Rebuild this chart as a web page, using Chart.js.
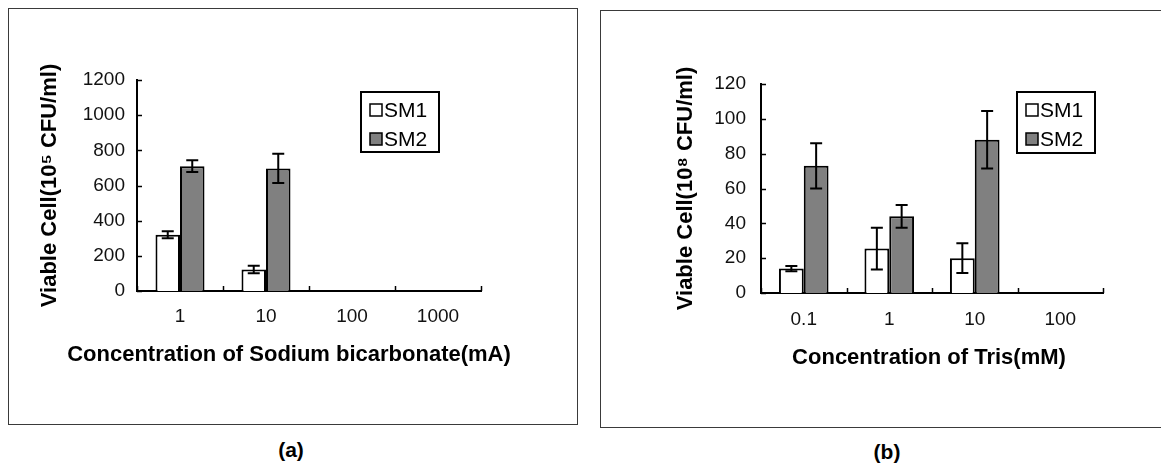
<!DOCTYPE html>
<html>
<head>
<meta charset="utf-8">
<script src="https://cdn.jsdelivr.net/npm/chart.js@4"></script>
<style>
  html, body { margin: 0; padding: 0; background: #fff; }
  body { width: 1161px; height: 466px; position: relative; overflow: hidden; font-family: "Liberation Sans", Arial, sans-serif; }
  .frame { position: absolute; border: 1px solid #3a3a3a; box-sizing: border-box; pointer-events: none; }
  canvas { position: absolute; }
  .cap { position: absolute; font-weight: bold; font-size: 21px; color: #000; transform: translate(-50%, -50%); white-space: nowrap; }
</style>
</head>
<body>
<canvas id="chartA" width="569" height="416" style="left:8px;top:8px;width:569px;height:416px;"></canvas>
<div class="frame" style="left:8px;top:8px;width:570px;height:417px;"></div>
<canvas id="chartB" width="561" height="417" style="left:600px;top:10px;width:561px;height:417px;"></canvas>
<div class="frame" style="left:600px;top:10px;width:562px;height:418px;"></div>
<div class="cap" style="left:291px;top:450px;">(a)</div>
<div class="cap" style="left:887px;top:452px;">(b)</div>
<script>
// ---------- data ----------
const seriesNames = ['SM1', 'SM2'];

const sodiumLabels = ['1', '10', '100', '1000'];
const sodiumSM1 = [320, 122, null, null];
const sodiumSM1Err = [20, 21, null, null];
const sodiumSM2 = [710, 697, null, null];
const sodiumSM2Err = [33, 83, null, null];
const sodiumTicks = [0, 200, 400, 600, 800, 1000, 1200];

const trisLabels = ['0.1', '1', '10', '100'];
const trisSM1 = [14, 25.5, 20, null];
const trisSM1Err = [1.5, 12, 8.5, null];
const trisSM2 = [73, 44, 88, null];
const trisSM2Err = [13, 6.5, 16.5, null];
const trisTicks = [0, 20, 40, 60, 80, 100, 120];

// ---------- styling ----------
const FONT = '"Liberation Sans", Arial, Helvetica, sans-serif';
Chart.defaults.font.family = FONT;
Chart.defaults.color = '#111';
const WHITE = '#ffffff';
const GRAY = '#808080';

const decor = {
  id: 'decor',
  afterDatasetsDraw(chart, args, opts) {
    const ctx = chart.ctx, y = chart.scales.y, x = chart.scales.x, ca = chart.chartArea;
    ctx.save();
    ctx.strokeStyle = '#000';
    ctx.lineWidth = 2;
    // error bars
    chart.data.datasets.forEach((ds, di) => {
      const meta = chart.getDatasetMeta(di);
      const errs = opts.errors[di];
      meta.data.forEach((bar, i) => {
        const v = ds.data[i], e = errs[i];
        if (v == null || !e) return;
        const top = y.getPixelForValue(v + e), bot = y.getPixelForValue(v - e);
        const c = opts.cap;
        ctx.beginPath();
        ctx.moveTo(bar.x, top); ctx.lineTo(bar.x, bot);
        ctx.moveTo(bar.x - c, top); ctx.lineTo(bar.x + c, top);
        ctx.moveTo(bar.x - c, bot); ctx.lineTo(bar.x + c, bot);
        ctx.stroke();
      });
    });
    // inward y ticks
    ctx.lineWidth = 1.5;
    y.ticks.forEach(t => {
      const py = Math.round(y.getPixelForValue(t.value)) + 0.5;
      ctx.beginPath(); ctx.moveTo(ca.left, py); ctx.lineTo(ca.left + 5, py); ctx.stroke();
    });
    // inward x ticks at category boundaries
    const n = chart.data.labels.length;
    for (let i = 0; i <= n; i++) {
      const px = Math.round(x.getPixelForValue(i - 0.5)) + 0.5;
      ctx.beginPath(); ctx.moveTo(px, ca.bottom); ctx.lineTo(px, ca.bottom - 5); ctx.stroke();
    }
    ctx.restore();
  },
  afterDraw(chart, args, opts) {
    const ctx = chart.ctx, ca = chart.chartArea, L = opts.legend, T = opts.xTitle;
    ctx.save();
    // x-axis title (may be wider than the plot area, so drawn without compression)
    ctx.font = 'bold 22px ' + FONT;
    ctx.fillStyle = '#000';
    ctx.textAlign = 'center';
    ctx.textBaseline = 'middle';
    ctx.fillText(T.text, ca.left + T.dx, ca.bottom + T.dy);
    // legend box
    ctx.textAlign = 'left';
    const bx = ca.left + L.dx, by = ca.top + L.dy;
    ctx.strokeStyle = '#000';
    ctx.lineWidth = 2;
    ctx.strokeRect(bx, by, L.w, L.h);
    ctx.font = '21px ' + FONT;
    chart.data.datasets.forEach((ds, i) => {
      const cy = by + L.rows[i];
      ctx.fillStyle = ds.backgroundColor;
      ctx.fillRect(bx + 9, cy - 6, 12, 12);
      ctx.lineWidth = 1.5;
      ctx.strokeRect(bx + 9, cy - 6, 12, 12);
      ctx.fillStyle = '#000';
      ctx.fillText(ds.label, bx + 23, cy + 1);
    });
    ctx.restore();
  }
};

function makeChart(id, labels, s1, s2, e1, e2, ticks, geo, yTitle, xTitle) {
  return new Chart(document.getElementById(id), {
    type: 'bar',
    data: {
      labels: labels,
      datasets: [
        { label: seriesNames[0], data: s1, backgroundColor: WHITE, borderColor: '#000', borderWidth: 2 },
        { label: seriesNames[1], data: s2, backgroundColor: GRAY, borderColor: '#000', borderWidth: 2 }
      ]
    },
    plugins: [decor],
    options: {
      responsive: false,
      animation: false,
      events: [],
      datasets: { bar: { categoryPercentage: geo.catPct, barPercentage: 1 } },
      layout: { padding: { left: geo.padLeft, right: geo.padRight, top: geo.padTop, bottom: 0 } },
      plugins: {
        legend: { display: false },
        tooltip: { enabled: false },
        decor: { errors: [e1, e2], cap: 6, legend: geo.legend, xTitle: { text: xTitle, dx: geo.xTitleDx, dy: geo.xTitleDy } }
      },
      scales: {
        x: {
          grid: { display: false, drawTicks: false },
          border: { display: true, color: '#000', width: 2 },
          ticks: { padding: geo.xTickPad, font: { size: 19 }, color: '#111', maxRotation: 0 },
          afterFit: s => { s.height = geo.xHeight; }
        },
        y: {
          min: ticks[0], max: ticks[ticks.length - 1],
          afterBuildTicks: s => { s.ticks = ticks.map(v => ({ value: v })); },
          grid: { display: false, drawTicks: false },
          border: { display: true, color: '#000', width: 2 },
          ticks: { padding: geo.yTickPad, font: { size: 19 }, color: '#111', callback: v => String(v) },
          title: { display: true, text: yTitle, font: { size: 22, weight: 'bold' }, color: '#000', padding: { top: geo.yTitlePad, bottom: 0 } },
          afterFit: s => { s.width = geo.yWidth; }
        }
      }
    }
  });
}

makeChart('chartA', sodiumLabels, sodiumSM1, sodiumSM2, sodiumSM1Err, sodiumSM2Err, sodiumTicks,
  { catPct: 0.57, padLeft: 20, padRight: 96, padTop: 72, yWidth: 109, xHeight: 133,
    xTickPad: 14, xTitleDx: 152, xTitleDy: 64, yTickPad: 12, yTitlePad: 9,
    legend: { dx: 224, dy: 12, w: 78, h: 60, rows: [18, 47] } },
  'Viable Cell(10\u2075 CFU/ml)', 'Concentration of Sodium bicarbonate(mA)');

makeChart('chartB', trisLabels, trisSM1, trisSM2, trisSM1Err, trisSM2Err, trisTicks,
  { catPct: 0.58, padLeft: 60, padRight: 58, padTop: 74, yWidth: 101, xHeight: 134,
    xTickPad: 15, xTitleDx: 168, xTitleDy: 65, yTickPad: 15, yTitlePad: 13,
    legend: { dx: 256, dy: 8, w: 78, h: 61, rows: [18, 47] } },
  'Viable Cell(10\u2078 CFU/ml)', 'Concentration of Tris(mM)');
</script>
</body>
</html>
